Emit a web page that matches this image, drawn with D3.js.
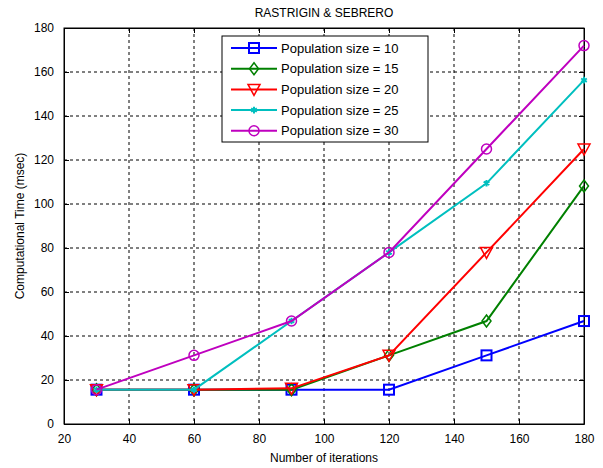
<!DOCTYPE html>
<html>
<head>
<meta charset="utf-8">
<script src="https://cdn.jsdelivr.net/npm/d3@7"></script>
<style>
  body { margin: 0; background: #fff; }
  text { font-family: "Liberation Sans", Arial, sans-serif; fill: #000; }
</style>
</head>
<body>
<script>
// iterations on the x axis
var iterations = [30, 60, 90, 120, 150, 180];
// computational time (msec) per population size
var pop10 = [15.6, 15.6, 15.6, 15.6, 31.2, 46.8];
var pop15 = [15.6, 15.6, 15.6, 31.2, 46.8, 108.2];
var pop20 = [15.6, 15.6, 16.2, 31.2, 78, 125];
var pop25 = [15.6, 15.6, 46.8, 78, 109.4, 156.3];
var pop30 = [15.6, 31.2, 46.8, 78, 125, 172];
var seriesNames = ["Population size = 10", "Population size = 15", "Population size = 20",
                   "Population size = 25", "Population size = 30"];
var xTicks = [20, 40, 60, 80, 100, 120, 140, 160, 180];
var yTicks = [0, 20, 40, 60, 80, 100, 120, 140, 160, 180];

var W = 603, H = 468;
var plotL = 64, plotR = 584, plotT = 28, plotB = 424; // plot box

var series = [
  {name: seriesNames[0], vals: pop10, color: "#0000ff", marker: "square"},
  {name: seriesNames[1], vals: pop15, color: "#008000", marker: "diamond"},
  {name: seriesNames[2], vals: pop20, color: "#ff0000", marker: "tri"},
  {name: seriesNames[3], vals: pop25, color: "#00bfbf", marker: "star"},
  {name: seriesNames[4], vals: pop30, color: "#bf00bf", marker: "circle"}
];

var svg = d3.select("body").append("svg").attr("width", W).attr("height", H);

var x = d3.scaleLinear().domain([20, 180]).range([plotL, plotR]);
var y = d3.scaleLinear().domain([0, 180]).range([plotB, plotT]);

// grid (dashed, skip edges)
svg.append("g").selectAll("line").data(xTicks.slice(1, -1)).enter().append("line")
  .attr("x1", d => x(d)).attr("x2", d => x(d)).attr("y1", plotT).attr("y2", plotB)
  .attr("stroke", "#000").attr("stroke-width", 1).attr("stroke-dasharray", "3,3");
svg.append("g").selectAll("line").data(yTicks.slice(1, -1)).enter().append("line")
  .attr("y1", d => y(d)).attr("y2", d => y(d)).attr("x1", plotL).attr("x2", plotR)
  .attr("stroke", "#000").attr("stroke-width", 1).attr("stroke-dasharray", "3,3");

// axes with inward ticks
svg.append("g").attr("transform", "translate(0," + plotB + ")")
  .call(d3.axisBottom(x).tickValues(xTicks).tickSizeInner(-5).tickSizeOuter(0).tickPadding(10));
svg.append("g").attr("transform", "translate(" + plotL + ",0)")
  .call(d3.axisLeft(y).tickValues(yTicks).tickSizeInner(-5).tickSizeOuter(0).tickPadding(10));
svg.append("g").attr("transform", "translate(0," + plotT + ")")
  .call(d3.axisTop(x).tickValues(xTicks).tickSizeInner(-5).tickSizeOuter(0).tickFormat(""));
svg.append("g").attr("transform", "translate(" + plotR + ",0)")
  .call(d3.axisRight(y).tickValues(yTicks).tickSizeInner(-5).tickSizeOuter(0).tickFormat(""));
svg.selectAll(".domain").attr("stroke", "#000");
svg.selectAll(".tick line").attr("stroke", "#000");
svg.selectAll(".tick text").style("font-size", "12px").style("font-family", "Liberation Sans, Arial, sans-serif");

svg.append("rect").attr("x", plotL).attr("y", plotT).attr("width", plotR - plotL).attr("height", plotB - plotT)
  .attr("fill", "none").attr("stroke", "#000").attr("stroke-width", 1);

var line = d3.line().x((d, i) => x(iterations[i])).y(d => y(d));

function drawMarker(g, type, color, cx, cy) {
  if (type == "square") {
    g.append("rect").attr("x", cx - 5).attr("y", cy - 5).attr("width", 10).attr("height", 10)
      .attr("fill", "none").attr("stroke", color).attr("stroke-width", 2);
  } else if (type == "diamond") {
    g.append("path").attr("d", "M" + cx + "," + (cy - 6) + "L" + (cx + 4.5) + "," + cy + "L" + cx + "," + (cy + 6) + "L" + (cx - 4.5) + "," + cy + "Z")
      .attr("fill", "none").attr("stroke", color).attr("stroke-width", 1.5);
  } else if (type == "tri") {
    g.append("path").attr("d", "M" + (cx - 6) + "," + (cy - 5) + "L" + (cx + 6) + "," + (cy - 5) + "L" + cx + "," + (cy + 6) + "Z")
      .attr("fill", "none").attr("stroke", color).attr("stroke-width", 1.5);
  } else if (type == "star") {
    g.append("path").attr("d", d3.symbol().type(d3.symbolAsterisk).size(30)())
      .attr("transform", "translate(" + cx + "," + cy + ")")
      .attr("fill", "none").attr("stroke", color).attr("stroke-width", 2);
  } else {
    g.append("circle").attr("cx", cx).attr("cy", cy).attr("r", 5)
      .attr("fill", "none").attr("stroke", color).attr("stroke-width", 1.5);
  }
}

series.forEach(s => {
  var g = svg.append("g");
  g.append("path").datum(s.vals).attr("d", line)
    .attr("fill", "none").attr("stroke", s.color).attr("stroke-width", 2);
  s.vals.forEach((v, i) => drawMarker(g, s.marker, s.color, x(iterations[i]), y(v)));
});

// legend
var lg = svg.append("g");
lg.append("rect").attr("x", 222).attr("y", 36).attr("width", 206).attr("height", 106)
  .attr("fill", "#fff").attr("stroke", "#000").attr("stroke-width", 1);
series.forEach((s, i) => {
  var ly = 48 + i * 20.7;
  lg.append("line").attr("x1", 231).attr("x2", 277).attr("y1", ly).attr("y2", ly)
    .attr("stroke", s.color).attr("stroke-width", 2);
  drawMarker(lg, s.marker, s.color, 254, ly);
  lg.append("text").attr("x", 281).attr("y", ly + 4.5).style("font-size", "13px").text(s.name);
});

// title and labels
svg.append("text").attr("x", 324).attr("y", 17).attr("text-anchor", "middle")
  .style("font-size", "12px").text("RASTRIGIN & SEBRERO");
svg.append("text").attr("x", 324).attr("y", 462).attr("text-anchor", "middle")
  .style("font-size", "12px").text("Number of iterations");
svg.append("text").attr("transform", "translate(24," + ((plotT + plotB) / 2) + ") rotate(-90)")
  .attr("text-anchor", "middle").style("font-size", "12px").text("Computational Time (msec)");
</script>
</body>
</html>
